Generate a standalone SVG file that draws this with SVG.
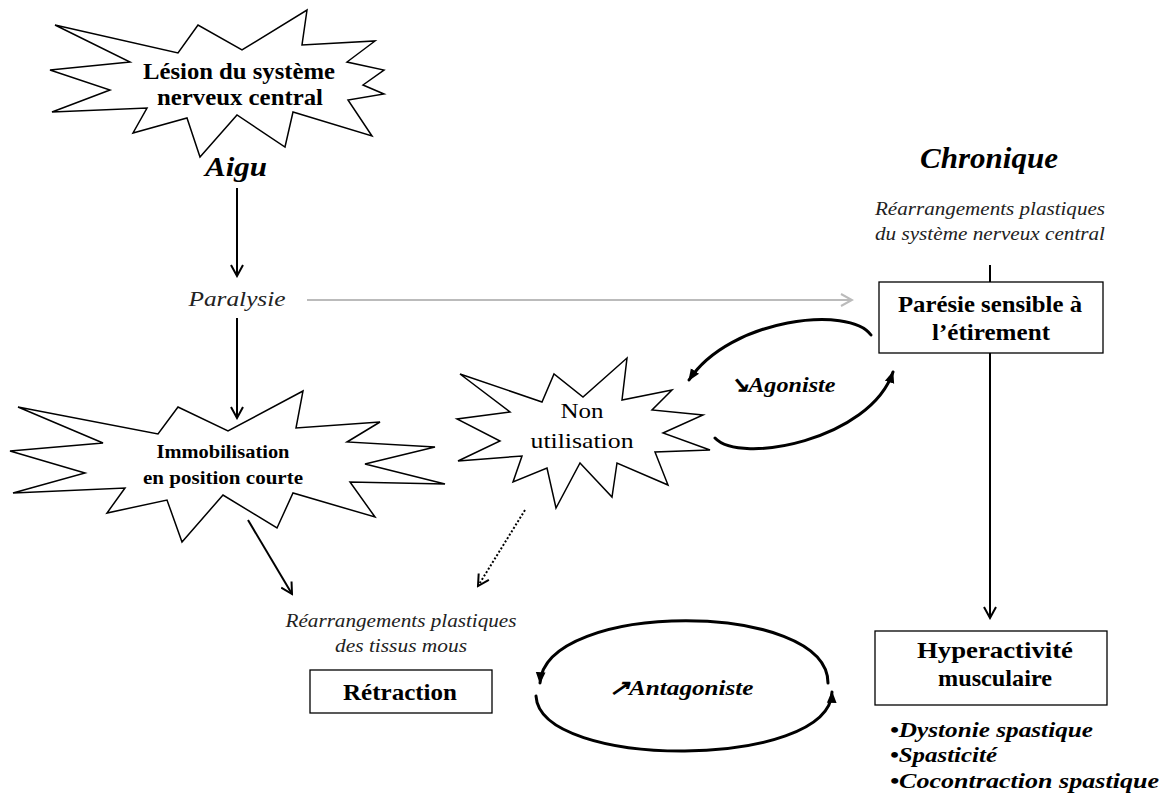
<svg xmlns="http://www.w3.org/2000/svg" width="1160" height="803" viewBox="0 0 1160 803">
<style>
.star{fill:#fff;stroke:#000;stroke-width:1.5;stroke-linejoin:miter}
.box{fill:#fff;stroke:#000;stroke-width:1.3}
.b{font-family:"Liberation Serif",serif;font-weight:bold;fill:#000;text-anchor:middle}
.bi{font-family:"Liberation Serif",serif;font-weight:bold;font-style:italic;fill:#000;text-anchor:middle}
.bil{font-family:"Liberation Serif",serif;font-weight:bold;font-style:italic;fill:#000;text-anchor:start}
.i{font-family:"Liberation Serif",serif;font-style:italic;fill:#222;text-anchor:middle}
.r{font-family:"Liberation Serif",serif;fill:#000;text-anchor:middle}
.ln{fill:none;stroke:#000;stroke-width:2}
.loop{fill:none;stroke:#000;stroke-width:3;stroke-linecap:round}
</style>
<defs>
<marker id="open" viewBox="0 0 14 14" refX="12" refY="7" markerWidth="14" markerHeight="14" markerUnits="userSpaceOnUse" orient="auto">
<path d="M1,1 L12,7 L1,13" fill="none" stroke="#000" stroke-width="2"/>
</marker>
<marker id="opengray" viewBox="0 0 14 14" refX="12" refY="7" markerWidth="14" markerHeight="14" markerUnits="userSpaceOnUse" orient="auto">
<path d="M1,1 L12,7 L1,13" fill="none" stroke="#bbb" stroke-width="2"/>
</marker>
<marker id="tri" viewBox="0 0 12 12" refX="10" refY="6" markerWidth="13" markerHeight="13" markerUnits="userSpaceOnUse" orient="auto">
<path d="M0,1.5 L11,6 L0,10.5 z" fill="#000"/>
</marker>
</defs>

<g id="connectors">
<line class="ln" x1="237" y1="188" x2="237" y2="276" marker-end="url(#open)"/>
<line class="ln" x1="237" y1="318" x2="237" y2="418" marker-end="url(#open)"/>
<line x1="307" y1="300" x2="852" y2="300" stroke="#bbb" stroke-width="2" marker-end="url(#opengray)"/>
<line class="ln" x1="990" y1="265" x2="990" y2="282"/>
<line class="ln" x1="990" y1="353" x2="990" y2="618" marker-end="url(#open)"/>
<line class="ln" x1="248" y1="520" x2="292" y2="594" marker-end="url(#open)"/>
<line x1="525" y1="510" x2="478" y2="586" stroke="#000" stroke-width="2" stroke-dasharray="2,2" marker-end="url(#open)"/>
<path class="loop" d="M871,335 C850,305 730,318 689,380" marker-end="url(#tri)"/>
<path class="loop" d="M715,438 C740,465 870,440 893,372" marker-end="url(#tri)"/>
<path class="loop" d="M828,683 C828,600 545,600 540,683" marker-end="url(#tri)"/>
<path class="loop" d="M536,696 C540,770 830,770 832,692" marker-end="url(#tri)"/>
</g>

<g id="lesion">
<polygon class="star" points="55,25 178,53 198,25 242,50 307,10 302,45 375,41 347,62 384,70 363,85 384,94 348,100 372,136 293,112 285,147 237,115 200,157 187,118 133,133 147,108 52,112 110,90 50,70 130,62"/>
<text class="b" x="239" y="79" font-size="23" textLength="192" lengthAdjust="spacingAndGlyphs">Lésion du système</text>
<text class="b" x="240" y="105" font-size="23" textLength="166" lengthAdjust="spacingAndGlyphs">nerveux central</text>
</g>

<g id="aigu">
<text class="bi" x="236" y="176" font-size="28" textLength="62" lengthAdjust="spacingAndGlyphs">Aigu</text>
</g>

<g id="paralysie">
<text class="i" x="237" y="306" font-size="22" textLength="97" lengthAdjust="spacingAndGlyphs">Paralysie</text>
</g>

<g id="immobilisation">
<polygon class="star" points="18,407 158,434 178,407 228,431 303,391 296,428 380,422 347,442 435,447 365,464 445,484 350,482 375,517 293,493 277,528 223,495 182,542 167,500 107,513 125,488 13,493 85,473 10,451 103,443"/>
<text class="b" x="223" y="458" font-size="19" textLength="133" lengthAdjust="spacingAndGlyphs">Immobilisation</text>
<text class="b" x="223" y="484" font-size="19" textLength="160" lengthAdjust="spacingAndGlyphs">en position courte</text>
</g>

<g id="nonutilisation">
<polygon class="star" points="460,374 542,402 554,374 583,397 627,358 622,400 672,390 652,410 703,415 663,433 710,450 655,452 668,485 617,463 612,497 580,463 556,508 547,468 513,482 522,456 458,461 500,441 457,419 510,412"/>
<text class="r" x="582" y="418" font-size="22" textLength="43" lengthAdjust="spacingAndGlyphs">Non</text>
<text class="r" x="582" y="448" font-size="22" textLength="103" lengthAdjust="spacingAndGlyphs">utilisation</text>
</g>

<g id="agoniste">
<text class="bi" x="782" y="392" font-size="22" textLength="107" lengthAdjust="spacingAndGlyphs">↘Agoniste</text>
</g>

<g id="chronique">
<text class="bi" x="989" y="168" font-size="30" textLength="138" lengthAdjust="spacingAndGlyphs">Chronique</text>
<text class="i" x="990" y="215" font-size="18" textLength="230" lengthAdjust="spacingAndGlyphs">Réarrangements plastiques</text>
<text class="i" x="990" y="240" font-size="18" textLength="230" lengthAdjust="spacingAndGlyphs">du système nerveux central</text>
</g>

<g id="paresie">
<rect class="box" x="879" y="282" width="224" height="71"/>
<text class="b" x="990" y="312" font-size="23" textLength="184" lengthAdjust="spacingAndGlyphs">Parésie sensible à</text>
<text class="b" x="991" y="340" font-size="23" textLength="118" lengthAdjust="spacingAndGlyphs">l’étirement</text>
</g>

<g id="tissus">
<text class="i" x="401" y="627" font-size="18" textLength="231" lengthAdjust="spacingAndGlyphs">Réarrangements plastiques</text>
<text class="i" x="401" y="652" font-size="18" textLength="132" lengthAdjust="spacingAndGlyphs">des tissus  mous</text>
</g>

<g id="retraction">
<rect class="box" x="310" y="670" width="182" height="43"/>
<text class="b" x="400" y="700" font-size="23" textLength="114" lengthAdjust="spacingAndGlyphs">Rétraction</text>
</g>

<g id="antagoniste">
<text class="bi" x="681" y="695" font-size="22" textLength="145" lengthAdjust="spacingAndGlyphs">↗Antagoniste</text>
</g>

<g id="hyperactivite">
<rect class="box" x="875" y="631" width="232" height="74"/>
<text class="b" x="995" y="658" font-size="23" textLength="156" lengthAdjust="spacingAndGlyphs">Hyperactivité</text>
<text class="b" x="995" y="686" font-size="23" textLength="114" lengthAdjust="spacingAndGlyphs">musculaire</text>
</g>

<g id="list">
<text class="bil" x="890" y="737" font-size="21" textLength="203" lengthAdjust="spacingAndGlyphs">•Dystonie spastique</text>
<text class="bil" x="890" y="762" font-size="21" textLength="107" lengthAdjust="spacingAndGlyphs">•Spasticité</text>
<text class="bil" x="890" y="788" font-size="21" textLength="269" lengthAdjust="spacingAndGlyphs">•Cocontraction spastique</text>
</g>
</svg>
